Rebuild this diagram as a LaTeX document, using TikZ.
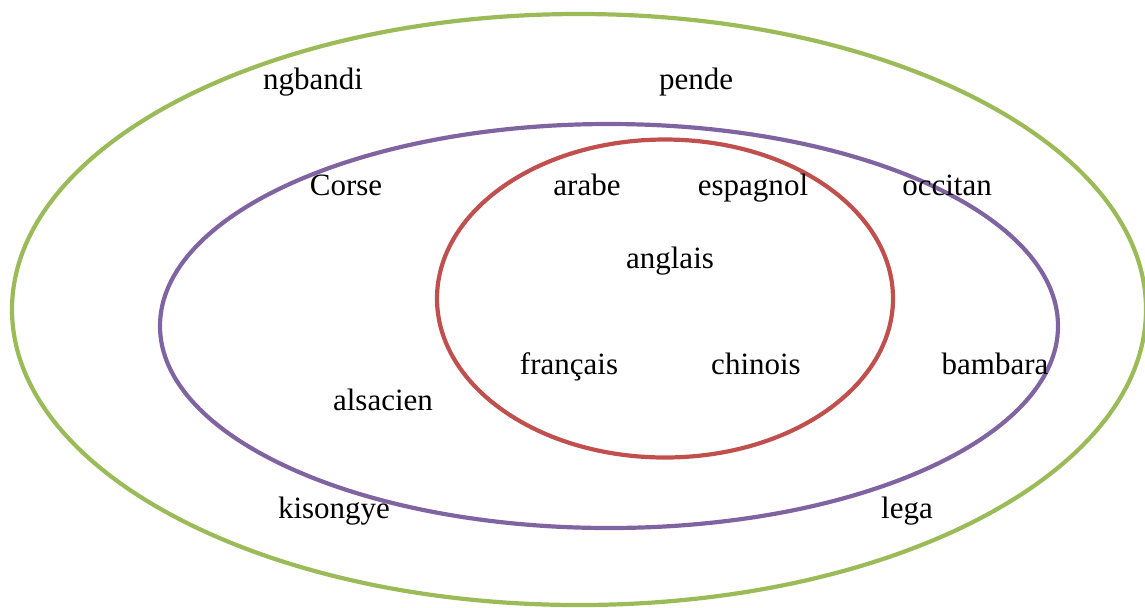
\documentclass[tikz,border=0pt]{standalone}
\usepackage{fontspec}
\setmainfont{Liberation Serif}
\definecolor{ogreen}{HTML}{9BBB59}
\definecolor{opurple}{HTML}{8064A2}
\definecolor{ored}{HTML}{C0504D}
\tikzset{
  ring/.style={line width=2.1pt},
  lang/.style={anchor=base, inner sep=0pt, font=\fontsize{15.5}{18}\selectfont}
}
\begin{document}
\begin{tikzpicture}[x=0.5pt,y=-0.5pt]
\useasboundingbox (0,0) rectangle (1145,607);
\draw[ring, ogreen] (579,309.5) ellipse [x radius=567, y radius=295.5];
\draw[ring, opurple] (609,326) ellipse [x radius=449, y radius=202];
\draw[ring, ored] (665,298.5) ellipse [x radius=228, y radius=159];
\node[lang] (ngbandi) at (313,89) {ngbandi};
\node[lang] (pende) at (696,89) {pende};
\node[lang] (corse) at (346,195) {Corse};
\node[lang] (arabe) at (587,195) {arabe};
\node[lang] (espagnol) at (753,195) {espagnol};
\node[lang] (occitan) at (947,195) {occitan};
\node[lang] (anglais) at (670,268) {anglais};
\node[lang] (francais) at (569,374) {français};
\node[lang] (chinois) at (756,374) {chinois};
\node[lang] (bambara) at (995,374) {bambara};
\node[lang] (alsacien) at (383,410) {alsacien};
\node[lang] (kisongye) at (334,518) {kisongye};
\node[lang] (lega) at (907,518) {lega};
\end{tikzpicture}
\end{document}
